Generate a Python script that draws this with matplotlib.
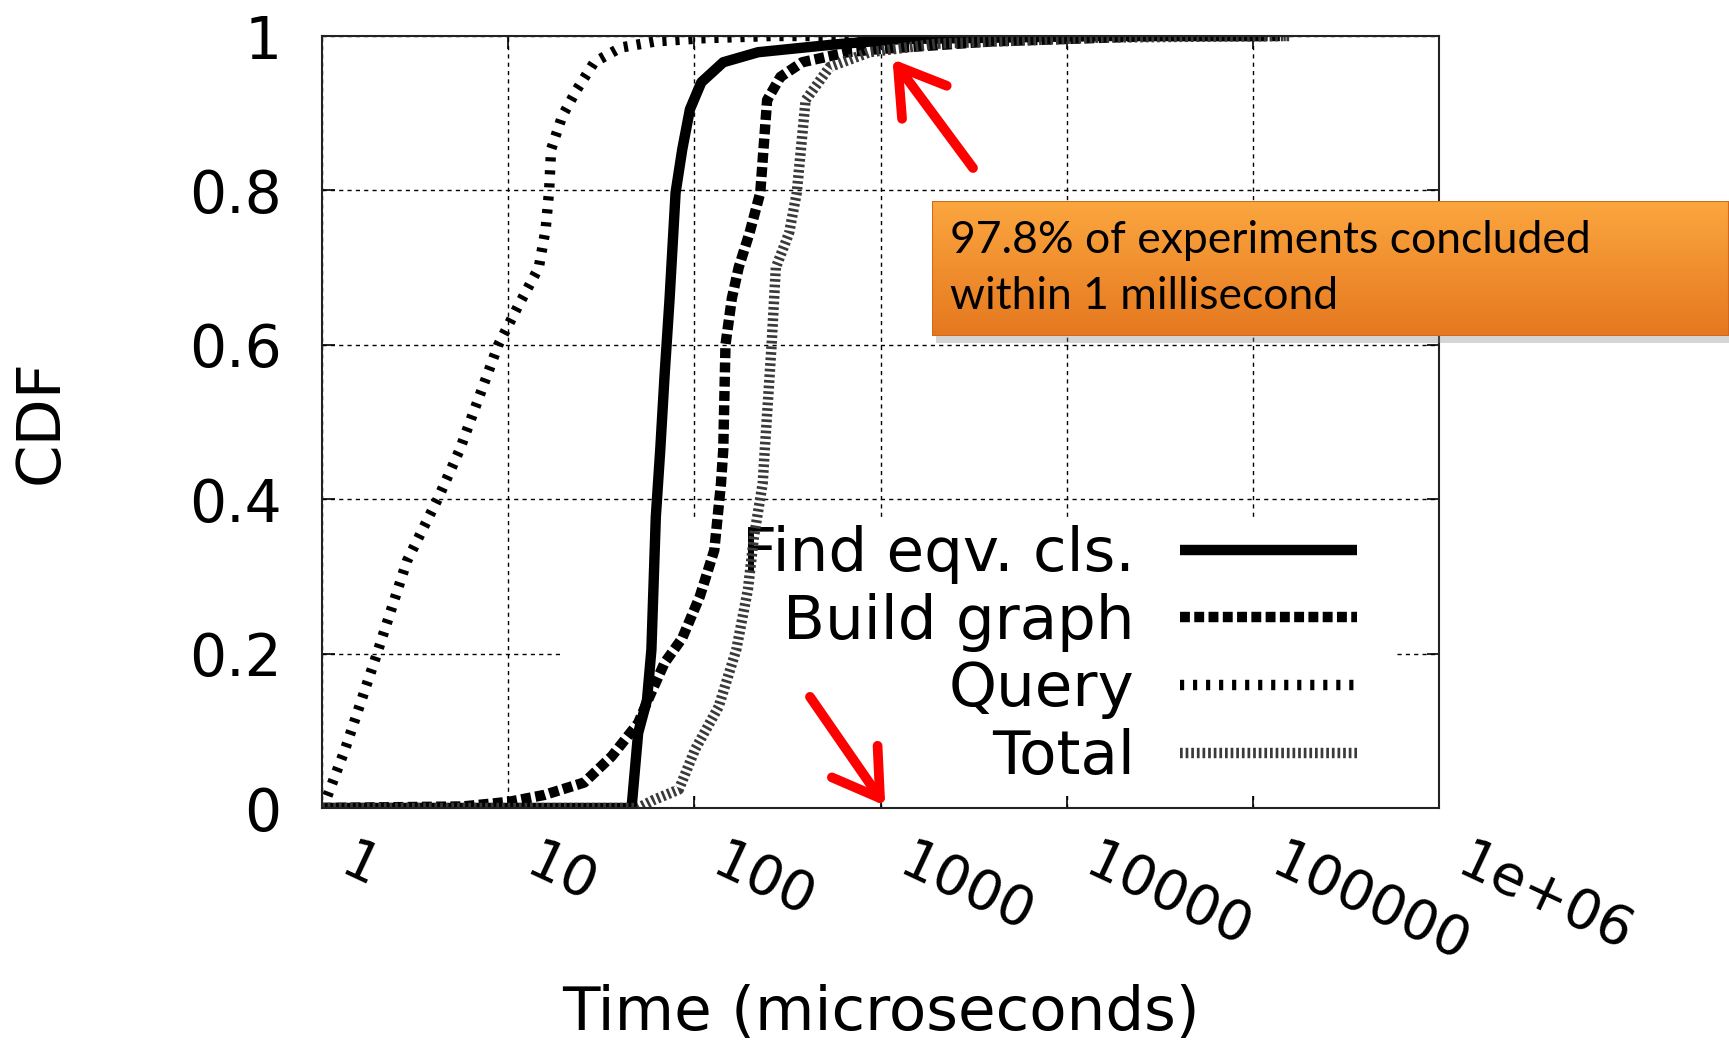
import numpy as np
import matplotlib
matplotlib.use("Agg")
import matplotlib.pyplot as plt
import matplotlib.transforms as mtransforms
from matplotlib.colors import LinearSegmentedColormap
from matplotlib.patches import Rectangle

plt.rcParams['font.family'] = ['DejaVu Sans']

# CDF curves: time (microseconds) vs cumulative fraction
find_t = [1, 46, 49.9, 55.7, 58.8, 62.1, 65.6, 69.2, 73.6, 79.3, 86.1, 94.7,
          109, 143, 220, 564, 1280, 15500, 120000]
find_cdf = [0, 0, 0.097, 0.14, 0.205, 0.377, 0.464, 0.56, 0.659, 0.797, 0.853,
            0.905, 0.94, 0.966, 0.979, 0.989, 0.996, 1.0, 1.0]

build_t = [1, 5.7, 10.1, 15.7, 25.6, 36, 49.9, 58.8, 69.2, 86.1, 107, 128, 139,
           143, 147, 159, 173, 198, 226, 246, 290, 380, 664, 973, 3960, 30500,
           150000]
build_cdf = [0, 0.002, 0.008, 0.017, 0.033, 0.067, 0.11, 0.15, 0.188, 0.22,
             0.274, 0.334, 0.42, 0.464, 0.6, 0.66, 0.70, 0.745, 0.797, 0.917,
             0.947, 0.966, 0.979, 0.983, 0.993, 1.0, 1.0]

query_t = [1.01, 1.33, 1.95, 2.86, 4.18, 5.49, 8.85, 11.3, 14.6, 15.9, 16.6,
           17.0, 19.5, 23.3, 29.0, 40.2, 62, 109, 260, 100000]
query_cdf = [0, 0.076, 0.196, 0.32, 0.40, 0.464, 0.60, 0.65, 0.70, 0.75, 0.80,
             0.853, 0.896, 0.93, 0.966, 0.985, 0.993, 0.997, 1.0, 1.0]

total_t = [1, 49.9, 60, 82.6, 101, 135, 168, 194, 209, 233, 239, 260, 274, 323,
           355, 396, 534, 873, 2000, 15500, 160000]
total_cdf = [0, 0, 0.01, 0.024, 0.076, 0.131, 0.205, 0.283, 0.351, 0.421,
             0.464, 0.60, 0.70, 0.745, 0.797, 0.917, 0.96, 0.979, 0.99, 0.998,
             1.0]

xtick_vals = [1, 10, 100, 1000, 10000, 100000, 1000000]
xtick_labels = ['1', '10', '100', '1000', '10000', '100000', '1e+06']
ytick_vals = [0, 0.2, 0.4, 0.6, 0.8, 1.0]
ytick_labels = ['0', '0.2', '0.4', '0.6', '0.8', '1']

note_text = "97.8% of experiments concluded\nwithin 1 millisecond"

W, H = 1729, 1052
fig = plt.figure(figsize=(W / 100, H / 100), dpi=100)
ax = fig.add_axes([322 / W, 1 - 808 / H, 1117 / W, 772 / H])

lw = 7.5
ax.plot(find_t, find_cdf, color='black', lw=lw, solid_capstyle='butt',
        label='Find eqv. cls.')
ax.plot(build_t, build_cdf, color='black', lw=lw, dashes=(0.95, 0.42),
        label='Build graph')
ax.plot(query_t, query_cdf, color='black', lw=lw, dashes=(0.4, 0.85),
        label='Query')
ax.plot(total_t, total_cdf, color='#3a3a3a', lw=lw, dashes=(0.26, 0.28),
        label='Total')

ax.set_xscale('log')
ax.set_xlim(1, 1e6)
ax.set_ylim(0, 1)
ax.set_xticks(xtick_vals)
ax.set_xticklabels([])
ax.xaxis.set_minor_locator(matplotlib.ticker.NullLocator())
ax.set_yticks(ytick_vals)
ax.set_yticklabels(ytick_labels, fontsize=42)
ax.tick_params(which='both', direction='in', top=True, right=True,
               length=9, width=1.2)
ax.tick_params(axis='y', pad=29)
ax.set_axisbelow(True)
ax.grid(True, color='black', linestyle=(0, (3, 3)), linewidth=1.0)
for sp in ax.spines.values():
    sp.set_color('#222222')
    sp.set_linewidth(1.5)

# rotated x tick labels, gnuplot style
trans = mtransforms.blended_transform_factory(ax.transData, ax.transAxes)
trans = mtransforms.offset_copy(trans, fig=fig, x=24, y=-19, units='points')
for v, lab in zip(xtick_vals, xtick_labels):
    ax.text(v, 0, lab, transform=trans, fontsize=40, rotation=-25,
            rotation_mode='anchor', ha='left', va='top')

ax.set_xlabel('Time (microseconds)', fontsize=44)
ax.xaxis.set_label_coords(0.5, -0.228)
ax.set_ylabel('CDF', fontsize=44)
ax.yaxis.set_label_coords(-0.225, 0.5)

# opaque key area hides the grid, the curves still run over it
ax.add_patch(Rectangle((0.214, 0.021), 0.748, 0.355, transform=ax.transAxes,
                       facecolor='white', edgecolor='none', zorder=1.2))
leg = ax.legend(loc='upper right', bbox_to_anchor=(0.943, 0.39),
                markerfirst=False, fontsize=44, handlelength=2.9,
                handletextpad=0.74, labelspacing=0.14, borderpad=0.3,
                frameon=False, borderaxespad=0)
leg.set_zorder(1.5)

# red arrows
arrow = dict(arrowstyle='->,head_length=1.6,head_width=1.0', color='red',
             lw=7, mutation_scale=20, shrinkA=0, shrinkB=0,
             capstyle='round', joinstyle='round')
ax.annotate('', xy=(1160, 0.97), xytext=(3140, 0.829), arrowprops=arrow,
            annotation_clip=False, zorder=6)
ax.annotate('', xy=(1060, 0.003), xytext=(418, 0.144), arrowprops=arrow,
            annotation_clip=False, zorder=6)

# orange callout box
bx, by, bw, bh = 932, 201, W - 932, 135
fig.patches.append(Rectangle(((bx + 4) / W, 1 - (by + bh + 7) / H), bw / W,
                             bh / H, transform=fig.transFigure,
                             facecolor='#888888', alpha=0.35, zorder=1))
box_ax = fig.add_axes([bx / W, 1 - (by + bh) / H, bw / W, bh / H])
box_ax.set_zorder(5)
grad = np.linspace(0, 1, 100).reshape(-1, 1)
cmap = LinearSegmentedColormap.from_list('orange', ['#FBA63F', '#E5781F'])
box_ax.imshow(grad, aspect='auto', cmap=cmap, extent=[0, 1, 0, 1])
box_ax.add_patch(Rectangle((0, 0), 1, 1, transform=box_ax.transAxes,
                           fill=False, edgecolor='#D2691E', lw=1.5))
box_ax.set_axis_off()
box_ax.text(0.0226, 0.5, note_text, transform=box_ax.transAxes,
            fontsize=32, family='Lato', ha='left', va='center',
            linespacing=1.45, color='black')

fig.savefig('out.png', dpi=100)
